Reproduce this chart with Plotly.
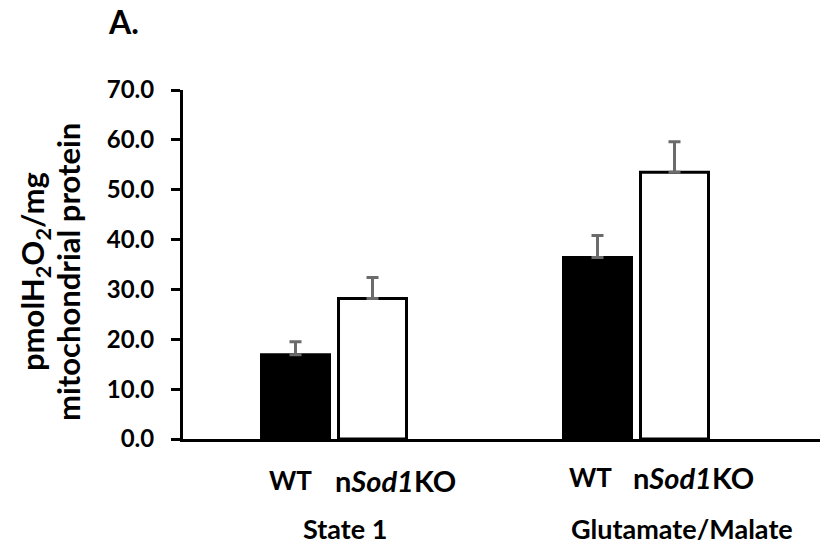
import plotly.graph_objects as go

groups = ["State 1", "Glutamate/Malate"]
genotypes = ["WT", "n<i>Sod1</i>KO"]
wt_vals = [16.9, 36.4]
wt_err = [2.6, 4.4]
ko_vals = [28.2, 53.5]
ko_err = [4.2, 6.1]
y_ticks = [0, 10, 20, 30, 40, 50, 60, 70]
y_tick_text = [f"{v:.1f}" for v in y_ticks]
y_title_lines = ["pmolH<sub>2</sub>O<sub>2</sub>/mg", "mitochondrial protein"]
panel_label = "A."

FONT = "Lato"
ERR_COLOR = "#6b6b6b"

FIG_W, FIG_H = 820, 547
L, R, T, B = 183, 0, 90, 108
W, H = FIG_W - L - R, FIG_H - T - B


def px(x):
    return (x - L) / W


def py(y):
    return (FIG_H - B - y) / H


fig = go.Figure()
fig.add_trace(go.Bar(
    x=groups, y=wt_vals, name="WT",
    marker=dict(color="black", line=dict(color="black", width=3)),
    error_y=dict(type="data", array=wt_err, arrayminus=[0, 0], symmetric=False,
                 color=ERR_COLOR, thickness=3, width=6),
))
fig.add_trace(go.Bar(
    x=groups, y=ko_vals, name="nSod1KO",
    marker=dict(color="white", line=dict(color="black", width=3)),
    error_y=dict(type="data", array=ko_err, arrayminus=[0, 0], symmetric=False,
                 color=ERR_COLOR, thickness=3, width=6),
))

bold = dict(family=FONT, color="black", weight="bold")
annotations = []


def add(xpix, ypix, text, size, angle=0, xanchor="center"):
    annotations.append(dict(x=px(xpix), y=py(ypix), xref="paper", yref="paper", text=text,
                            xanchor=xanchor, yanchor="middle", textangle=angle,
                            showarrow=False, font=dict(size=size, **bold)))


add(290, 480, genotypes[0], 26)
add(395, 480, genotypes[1], 29)
add(590, 477, genotypes[0], 26)
add(693, 477, genotypes[1], 29)
add(345, 528, groups[0], 27)
add(682, 528, groups[1], 27)
add(106, 22, panel_label, 32, xanchor="left")
add(34, 272, y_title_lines[0], 31, angle=-90)
add(68, 272, y_title_lines[1], 31, angle=-90)

fig.update_layout(
    width=FIG_W, height=FIG_H,
    margin=dict(l=L, r=R, t=T, b=B),
    paper_bgcolor="white", plot_bgcolor="white",
    barmode="group", bargap=0.49, bargroupgap=0.117,
    showlegend=False,
    font=dict(family=FONT, color="black"),
    annotations=annotations,
)
fig.update_xaxes(showticklabels=False, showline=True, linecolor="black", linewidth=3,
                 ticks="", showgrid=False, zeroline=False,
                 range=[-0.5, -0.5 + W / 302])
fig.update_yaxes(range=[0, 70], tickvals=y_ticks, ticktext=y_tick_text,
                 showline=True, linecolor="black", linewidth=3,
                 ticks="outside", ticklen=9, tickwidth=3, tickcolor="black",
                 ticklabelstandoff=12,
                 showgrid=False, zeroline=False,
                 tickfont=dict(size=24, **bold))

fig.write_html("out.html")
